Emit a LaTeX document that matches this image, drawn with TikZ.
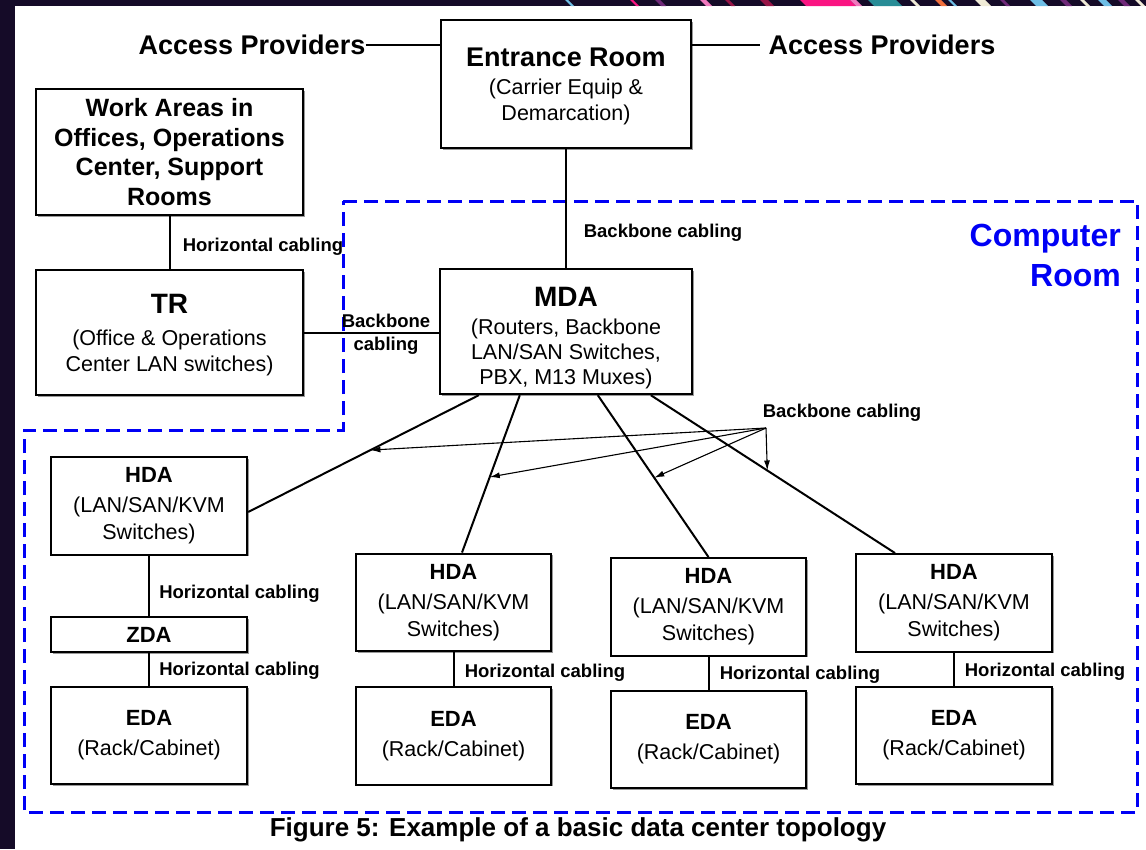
\documentclass[tikz,border=0pt]{standalone}
\usepackage{fontspec}
\setmainfont{Liberation Sans}
\usetikzlibrary{arrows.meta,shadows,calc}
\definecolor{framebg}{RGB}{21,11,40}
\definecolor{roomblue}{RGB}{0,0,245}
\definecolor{hotpink}{RGB}{250,20,130}
\definecolor{softpink}{RGB}{240,120,190}
\definecolor{tealstreak}{RGB}{40,140,150}
\definecolor{orangestreak}{RGB}{240,110,60}
\definecolor{skystreak}{RGB}{110,190,230}
\definecolor{plumstreak}{RGB}{110,40,120}
\definecolor{creamstreak}{RGB}{240,235,215}
\definecolor{winestreak}{RGB}{150,20,70}
\begin{document}
\begin{tikzpicture}[x=1pt,y=-1pt,
  box/.style={draw,line width=2.4pt,fill=white,align=center,inner sep=0pt,
    drop shadow={shadow xshift=1.5pt,shadow yshift=-1.5pt,fill=black!40,opacity=1}},
  lbl/.style={font=\bfseries\fontsize{18.5}{23}\selectfont,inner sep=0pt,align=center},
  aptext/.style={font=\bfseries\fontsize{27}{30}\selectfont,inner sep=0pt},
  wire/.style={line width=2pt},
  bbarrow/.style={line width=1.1pt,-{Latex[length=10pt,width=6pt]}},
  room/.style={draw=roomblue,line width=3pt,dash pattern=on 14pt off 7pt}
]
% page frame
\fill[framebg] (0,0) rectangle (1146,849);
\fill[white] (15,6) rectangle (1146,849);
\useasboundingbox (0,0) rectangle (1146,849);
% coloured streaks along the top edge
\begin{scope}
\clip (15,0) rectangle (1146,6);
\foreach \x/\w/\c in {565/3/skystreak,630/3/hotpink,655/5/plumstreak,700/6/softpink,
  725/4/winestreak,760/8/winestreak,800/50/hotpink,850/6/softpink,868/28/tealstreak,
  910/4/creamstreak,935/6/orangestreak,948/3/skystreak,975/10/creamstreak,
  1000/4/plumstreak,1030/12/skystreak,1060/6/plumstreak,1080/4/creamstreak,
  1098/8/skystreak,1118/6/plumstreak,1135/4/creamstreak}
  \fill[\c] (\x,0) -- ++(\w,0) -- ++(6,6) -- ++(-\w,0) -- cycle;
\end{scope}

% computer room boundary
\draw[room] (343,201) -- (1137,201) -- (1137,812) -- (24,812) -- (24,430) -- (343,430) -- cycle;
\node[font=\bfseries\fontsize{32}{40}\selectfont,text=roomblue,align=right,anchor=east,inner sep=0pt]
  (croom) at (1121,255) {Computer\\Room};

% boxes
\node[box,minimum width=250pt,minimum height=128pt,font=\fontsize{21.5}{26}\selectfont] (entr) at (566,84)
  {{\bfseries\fontsize{27}{26}\selectfont\rule{0pt}{24pt}Entrance Room}\\[2pt]
   (Carrier Equip \&\\Demarcation)};
\node[box,minimum width=267pt,minimum height=126pt,font=\bfseries\fontsize{25}{29.5}\selectfont]
  (work) at (169.5,152) {Work Areas in\\Offices, Operations\\Center, Support\\Rooms};
\node[box,minimum width=267pt,minimum height=125pt,font=\fontsize{21.5}{26}\selectfont] (tr) at (169.5,332.5)
  {{\bfseries\fontsize{28}{26}\selectfont\rule{0pt}{24pt}TR}\\[6pt]
   (Office \& Operations\\Center LAN switches)};
\node[box,minimum width=252pt,minimum height=125pt,font=\fontsize{21.5}{25}\selectfont] (mda) at (566,331.5)
  {{\bfseries\fontsize{28}{25}\selectfont\rule{0pt}{32pt}MDA}\\[3pt]
   (Routers, Backbone\\LAN/SAN Switches,\\PBX, M13 Muxes)};

\tikzset{
  hdabox/.style={box,minimum height=97.5pt,font=\fontsize{21.5}{27}\selectfont},
  edabox/.style={box,minimum height=97.5pt,font=\fontsize{21.5}{27}\selectfont}}
\newcommand{\hdatext}{{\bfseries\fontsize{22}{27}\selectfont HDA}\\[3pt](LAN/SAN/KVM\\Switches)}
\newcommand{\edatext}{{\bfseries\fontsize{22}{27}\selectfont EDA}\\[3pt](Rack/Cabinet)}

\node[hdabox,minimum width=196pt] (hda1) at (149,506) {\hdatext};
\node[box,minimum width=196pt,minimum height=35pt,font=\bfseries\fontsize{22}{27}\selectfont]
  (zda) at (149,634.5) {ZDA};
\node[edabox,minimum width=196pt] (eda1) at (149,735.5) {\edatext};
\node[hdabox,minimum width=195pt] (hda2) at (453.5,602.5) {\hdatext};
\node[edabox,minimum width=195pt] (eda2) at (453.5,736) {\edatext};
\node[hdabox,minimum width=195pt] (hda3) at (708.5,607) {\hdatext};
\node[edabox,minimum width=195pt] (eda3) at (708.5,739.5) {\edatext};
\node[hdabox,minimum width=196pt] (hda4) at (954,603) {\hdatext};
\node[edabox,minimum width=196pt] (eda4) at (954,735.5) {\edatext};

% access providers
\node[aptext] (apl) at (252,45) {Access Providers};
\node[aptext] (apr) at (882,45) {Access Providers};
\draw[line width=2.5pt] (apl.east) -- (apl.east -| entr.west);
\draw[line width=2.5pt] (entr.east |- apr.west) -- ([xshift=-8pt]apr.west);

% backbone and horizontal cabling
\draw[wire] (entr.south) -- (mda.north);
\draw[wire] (work.south) -- (tr.north);
\draw[wire] (tr.east) -- (tr.east -| mda.west);
\draw[wire] (hda1.south) -- (zda.north);
\draw[wire] (zda.south) -- (eda1.north);
\draw[wire] (hda2.south) -- (eda2.north);
\draw[wire] (hda3.south) -- (eda3.north);
\draw[wire] (hda4.south) -- (eda4.north);

\draw[wire] ([xshift=40pt]mda.south west) -- ([yshift=-6pt]hda1.east) coordinate[pos=.47] (a1);
\draw[wire] ([xshift=81pt]mda.south west) -- ([xshift=8.5pt]hda2.north) coordinate[pos=.52] (a2);
\draw[wire] ([xshift=159pt]mda.south west) -- (hda3.north) coordinate[pos=.51] (a3);
\draw[wire] ([xshift=212pt]mda.south west) -- ([xshift=-59pt]hda4.north) coordinate[pos=.477] (a4);

% labels
\node[lbl] (hc0) at (263,247) {Horizontal cabling};
\node[lbl] (bbtr) at (386,334) {Backbone\\cabling};
\node[lbl] (bbmda) at (663,233) {Backbone cabling};
\node[lbl] (hc1) at (239.5,594) {Horizontal cabling};
\node[lbl] (hc2) at (239.5,671) {Horizontal cabling};
\node[lbl] (hc3) at (545,673) {Horizontal cabling};
\node[lbl] (hc4) at (800,675) {Horizontal cabling};
\node[lbl] (hc5) at (1045,672) {Horizontal cabling};
\node[lbl] (bbl) at (842,413) {Backbone cabling};

% pointers from the backbone label to each riser
\coordinate (bbsrc) at (766,428);
\draw[bbarrow] (bbsrc) -- (a1);
\draw[bbarrow] (bbsrc) -- (a2);
\draw[bbarrow] (bbsrc) -- (a3);
\draw[bbarrow] (bbsrc) -- (a4);

% caption
\node[font=\bfseries\fontsize{26}{30}\selectfont,inner sep=0pt] (cap) at (578,830)
  {Figure 5: Example of a basic data center topology};
\end{tikzpicture}
\end{document}
